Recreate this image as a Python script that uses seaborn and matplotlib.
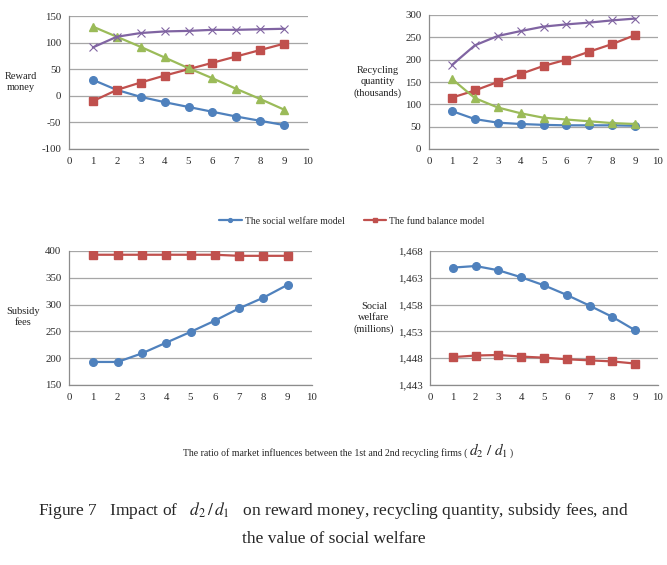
import numpy as np
import pandas as pd
import matplotlib
matplotlib.use("Agg")
import matplotlib.pyplot as plt
import seaborn as sns

# ratio d2/d1
ratio = [1, 2, 3, 4, 5, 6, 7, 8, 9]

# reward money
reward_welfare = [30, 11, -2, -12, -21, -30, -39, -47, -55]
reward_fund = [-10, 11, 25, 38, 50, 62, 74, 86, 98]
reward_green = [130, 111, 92, 72, 52, 33, 13, -6, -26]
reward_purple = [91, 111, 118, 121, 122, 124, 124, 125, 126]

# recycling quantity (thousands)
qty_welfare = [85, 67, 59, 56, 54, 53, 53, 53, 52]
qty_fund = [115, 131, 150, 168, 186, 200, 218, 235, 255]
qty_green = [157, 114, 93, 80, 70, 66, 62, 58, 56]
qty_purple = [188, 232, 253, 264, 274, 279, 283, 288, 292]

# subsidy fees
fee_welfare = [193, 193, 209, 229, 249, 270, 293, 313, 337]
fee_fund = [393, 393, 393, 393, 393, 393, 391, 391, 391]

# social welfare (millions)
sw_welfare = [1464.9, 1465.2, 1464.4, 1463.1, 1461.6, 1459.8, 1457.8, 1455.7, 1453.2]
sw_fund = [1448.2, 1448.5, 1448.6, 1448.3, 1448.1, 1447.8, 1447.6, 1447.4, 1447.0]

labels = ["The social welfare model", "The fund balance model", "firm 1", "firm 2"]
colors = {labels[0]: "#4F81BD", labels[1]: "#C0504D", labels[2]: "#9BBB59", labels[3]: "#8064A2"}
markers = {labels[0]: "o", labels[1]: "s", labels[2]: "^", labels[3]: "x"}

sns.set_style("white")
plt.rcParams["font.family"] = ["Liberation Serif", "DejaVu Serif"]
plt.rcParams["mathtext.fontset"] = "stix"

fig = plt.figure(figsize=(6.67, 5.65), dpi=100)
W, H = 667, 565


def make_ax(l, r, t, b):
    return fig.add_axes([l / W, 1 - b / H, (r - l) / W, (b - t) / H])


ax1 = make_ax(69, 308, 16, 149)
ax2 = make_ax(429, 658, 15, 149)
ax3 = make_ax(69, 312, 251, 385)
ax4 = make_ax(430, 658, 251, 385)

panels = [
    (ax1, [(labels[0], reward_welfare), (labels[1], reward_fund),
           (labels[2], reward_green), (labels[3], reward_purple)],
     (-100, 150), np.arange(-100, 151, 50), "{:d}"),
    (ax2, [(labels[0], qty_welfare), (labels[1], qty_fund),
           (labels[2], qty_green), (labels[3], qty_purple)],
     (0, 300), np.arange(0, 301, 50), "{:d}"),
    (ax3, [(labels[0], fee_welfare), (labels[1], fee_fund)],
     (150, 400), np.arange(150, 401, 50), "{:d}"),
    (ax4, [(labels[0], sw_welfare), (labels[1], sw_fund)],
     (1443, 1468), np.arange(1443, 1469, 5), "{:,d}"),
]

for ax, series, ylim, yticks, fmt in panels:
    for name, vals in series:
        df = pd.DataFrame({"ratio": ratio, "value": vals})
        is_x = markers[name] == "x"
        sns.lineplot(data=df, x="ratio", y="value", color=colors[name],
                     marker=markers[name], markersize=6 if is_x else 5.5,
                     linewidth=1.6, markeredgewidth=0.8 if is_x else 1.0,
                     markeredgecolor=colors[name],
                     label=name, legend=False, ax=ax)
    ax.set_xlim(0, 10)
    ax.set_ylim(*ylim)
    ax.set_xticks(range(0, 11))
    ax.set_yticks(yticks)
    ax.set_yticklabels([fmt.format(int(v)) for v in yticks])
    ax.set_xlabel("")
    ax.set_ylabel("")
    ax.yaxis.grid(True, color="#a6a6a6", linewidth=0.9)
    ax.set_axisbelow(True)
    for s in ["top", "right"]:
        ax.spines[s].set_visible(False)
    for s in ["left", "bottom"]:
        ax.spines[s].set_color("#8c8c8c")
        ax.spines[s].set_linewidth(0.9)
    ax.tick_params(axis="both", which="major", labelsize=7.8, length=2.5,
                   width=0.8, color="#8c8c8c", pad=3, labelcolor="#2a2a2a")

# y axis titles
ytitle_kw = dict(ha="center", va="center", fontsize=7.5, linespacing=1.25, color="#222222")
fig.text(21 / W, 1 - 82 / H, "Reward\nmoney", **ytitle_kw)
fig.text(378 / W, 1 - 82 / H, "Recycling\nquantity\n(thousands)", **ytitle_kw)
fig.text(23 / W, 1 - 317 / H, "Subsidy\nfees", **ytitle_kw)
fig.text(374 / W, 1 - 318 / H, "Social\nwelfare\n(millions)", **ytitle_kw)

# legend
handles = ax3.lines[:2]
fig.legend(handles, labels[:2], loc="center", bbox_to_anchor=(352 / W, 1 - 221 / H),
           ncol=2, frameon=False, fontsize=7, handlelength=2.3, columnspacing=2.0,
           handletextpad=0.3, markerscale=0.5)

# x label made of pieces
renderer = fig.canvas.get_renderer()
t1 = fig.text(183 / W, 1 - 456 / H,
              "The ratio of market influences between the 1st and 2nd recycling firms (",
              ha="left", va="baseline", fontsize=7)
bb = t1.get_window_extent(renderer)
t2 = fig.text(bb.x1 / fig.bbox.width + 0.003, 1 - 456 / H, r"$d_2\ /\ d_1$",
              ha="left", va="baseline", fontsize=11)
bb2 = t2.get_window_extent(renderer)
fig.text(bb2.x1 / fig.bbox.width + 0.002, 1 - 456 / H, ")", ha="left",
         va="baseline", fontsize=7)

# caption
fig.text(0.5, 1 - 515 / H,
         r"Figure 7   Impact of   $d_2\,/\,d_1$   on reward money, recycling quantity, subsidy fees, and",
         ha="center", va="baseline", fontsize=12.5)
fig.text(0.5, 1 - 543 / H, "the value of social welfare", ha="center",
         va="baseline", fontsize=12.5)

fig.savefig("out.png", dpi=100)
